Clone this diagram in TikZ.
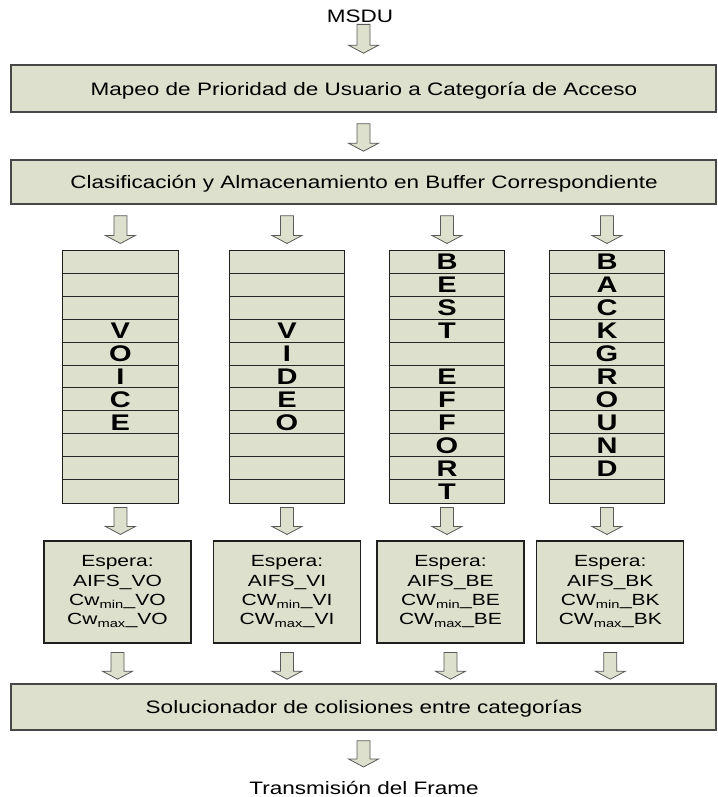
\documentclass[tikz,border=0pt]{standalone}
\usepackage{fontspec}
\setmainfont{Liberation Sans}
\usepackage{graphicx}
\usetikzlibrary{calc}
\definecolor{boxfill}{RGB}{221,224,204}
\newcommand{\sqz}[2][0.8]{\scalebox{1}[#1]{#2}}
% block arrow: #1 start coordinate (x and top y), #2 end coordinate (tip y), #3 top gap, #4 tip gap
\newcommand{\blockarrow}[4]{%
  \draw[arr] let \p1=#1, \p2=#2 in
   ({\x1-6.5pt},{\y1-#3pt}) -- ({\x1+6.5pt},{\y1-#3pt}) -- ({\x1+6.5pt},{\y2+#4pt+8pt})
   -- ({\x1+15pt},{\y2+#4pt+8pt}) -- (\x1,{\y2+#4pt}) -- ({\x1-15pt},{\y2+#4pt+8pt})
   -- ({\x1-6.5pt},{\y2+#4pt+8pt}) -- cycle;}
\begin{document}
\begin{tikzpicture}[x=1pt,y=-1pt,
  wide/.style={draw=black!72, line width=1.6pt, fill=boxfill, minimum width=705pt, inner sep=0pt},
  buf/.style={draw=black!88, line width=1.1pt, fill=boxfill, minimum width=115.5pt, minimum height=252.6pt, inner sep=0pt},
  esp/.style={draw=black!88, line width=1.1pt, fill=boxfill, minimum width=147pt, minimum height=102pt, inner sep=0pt},
  rowline/.style={draw=black!85, line width=0.9pt},
  lbl/.style={anchor=base, inner sep=0pt, font=\fontsize{22.5}{27}\selectfont},
  letr/.style={anchor=base, inner sep=0pt, font=\fontsize{29}{30}\selectfont\bfseries},
  etxt/.style={inner sep=0pt, font=\fontsize{21}{25}\selectfont},
  arr/.style={draw=black!65, line width=0.8pt, fill=boxfill, line join=miter}
]
\useasboundingbox (0,0) rectangle (717,797);
\fill[white] (0,0) rectangle (717,797);

% top text and boxes
\node[lbl] (msdu) at (360,22.5) {\sqz{MSDU}};
\node[wide, minimum height=47pt] (map) at (363.5,88.5) {};
\node[lbl] (maptxt) at (364,96) {\sqz{Mapeo de Prioridad de Usuario a Categoría de Acceso}};
\node[wide, minimum height=44pt] (cls) at (363.5,182) {};
\node[lbl] (clstxt) at (364,188.5) {\sqz{Clasificación y Almacenamiento en Buffer Correspondiente}};

% buffers
\def\rh{22.96}
\foreach \nm/\cx in {bvo/120.4, bvi/287, bbe/447, bbk/607}{
  \node[buf] (\nm) at (\cx,377) {};
  \foreach \i in {1,...,10}
    \draw[rowline] ($(\nm.north west)+(0,\i*\rh)$) -- ($(\nm.north east)+(0,\i*\rh)$);
}
\foreach \r/\l in {4/V,5/O,6/I,7/C,8/E}
  \node[letr] (lvo\r) at ($(bvo.north)+(0,{(\r-0.5)*\rh+8.1})$) {\sqz[0.78]{\l}};
\foreach \r/\l in {4/V,5/I,6/D,7/E,8/O}
  \node[letr] (lvi\r) at ($(bvi.north)+(0,{(\r-0.5)*\rh+8.1})$) {\sqz[0.78]{\l}};
\foreach \r/\l in {1/B,2/E,3/S,4/T,6/E,7/F,8/F,9/O,10/R,11/T}
  \node[letr] (lbe\r) at ($(bbe.north)+(0,{(\r-0.5)*\rh+8.1})$) {\sqz[0.78]{\l}};
\foreach \r/\l in {1/B,2/A,3/C,4/K,5/G,6/R,7/O,8/U,9/N,10/D}
  \node[letr] (lbk\r) at ($(bbk.north)+(0,{(\r-0.5)*\rh+8.1})$) {\sqz[0.78]{\l}};

% espera boxes
\node[esp] (evo) at (117.5,592) {};
\node[esp] (evi) at (287,592) {};
\node[esp] (ebe) at (450.5,592) {};
\node[esp] (ebk) at (610.3,592) {};
\node[etxt] (tvo) at (evo.center) {\sqz[0.77]{\begin{tabular}{@{}c@{}}Espera:\\AIFS\_VO\\Cw\textsubscript{min}\_VO\\Cw\textsubscript{max}\_VO\end{tabular}}};
\node[etxt] (tvi) at (evi.center) {\sqz[0.77]{\begin{tabular}{@{}c@{}}Espera:\\AIFS\_VI\\CW\textsubscript{min}\_VI\\CW\textsubscript{max}\_VI\end{tabular}}};
\node[etxt] (tbe) at (ebe.center) {\sqz[0.77]{\begin{tabular}{@{}c@{}}Espera:\\AIFS\_BE\\CW\textsubscript{min}\_BE\\CW\textsubscript{max}\_BE\end{tabular}}};
\node[etxt] (tbk) at (ebk.center) {\sqz[0.77]{\begin{tabular}{@{}c@{}}Espera:\\AIFS\_BK\\CW\textsubscript{min}\_BK\\CW\textsubscript{max}\_BK\end{tabular}}};

% bottom box and text
\node[wide, minimum height=46pt] (sol) at (363.5,707) {};
\node[lbl] (soltxt) at (364,713) {\sqz{Solucionador de colisiones entre categorías}};
\node[lbl] (trans) at (364,794) {\sqz{Transmisión del Frame}};
\coordinate (tip) at (364,767);

% block arrows
\blockarrow{(msdu.south -| map.center)}{(map.north)}{1.5}{11}
\blockarrow{(map.south)}{(cls.north)}{11}{8}
\foreach \nm in {bvo,bvi,bbe,bbk}
  \blockarrow{(cls.south -| \nm.center)}{(\nm.north)}{11}{6.7};
\foreach \a/\b in {bvo/evo,bvi/evi,bbe/ebe,bbk/ebk}
  \blockarrow{(\a.south)}{(\b.north)}{3.7}{6};
\foreach \a in {evo,evi,ebe,ebk}
  \blockarrow{(\a.south)}{(sol.north)}{9}{4};
\blockarrow{(sol.south)}{(tip)}{10}{0}
\end{tikzpicture}
\end{document}
